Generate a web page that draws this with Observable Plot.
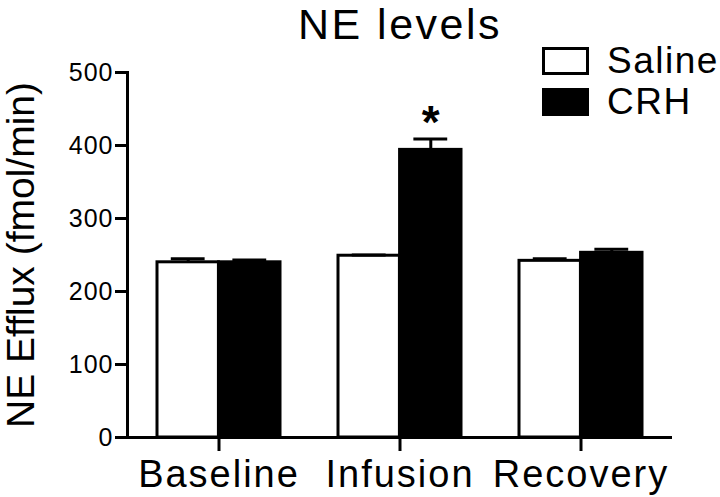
<!DOCTYPE html>
<html><head><meta charset="utf-8">
<script src="https://cdn.jsdelivr.net/npm/d3@7"></script>
<script src="https://cdn.jsdelivr.net/npm/@observablehq/plot@0.6"></script>
<style>
body{margin:0;background:#fff;}
#chart{position:relative;width:720px;height:497px;font-family:"Liberation Sans",Arial,sans-serif;}
.legend{position:absolute;left:542px;top:40px;}
.row{display:flex;align-items:center;height:41px;}
.box{width:41px;height:22px;border:3px solid #000;}
.lab{margin-left:18px;font-size:37px;letter-spacing:1.5px;color:#000;line-height:41px;}
#chart svg g[aria-label$="tick"] path{stroke-width:3px;}
#chart svg g[aria-label="frame"] *{stroke-width:3px;}
#chart svg g[aria-label="x-axis tick label"] text{letter-spacing:2px;}
#chart svg g[aria-label="y-axis tick label"] text{letter-spacing:1px;}
</style></head><body><div id="chart"></div>
<script>
const title = "NE levels";
const yLabel = "NE Efflux (fmol/min)";
const groups = ["Baseline", "Infusion", "Recovery"];
const series = ["Saline", "CRH"];
const colors = ["#ffffff", "#000000"];
const salineMean = [240, 249, 242];
const salineSem = [5, 1, 3];
const crhMean = [240, 394, 253];
const crhSem = [3, 15, 5];
const yTicks = [0, 100, 200, 300, 400, 500];
const sigGroups = ["Infusion"];
const sigSymbol = "*";

const W = 720, H = 497, mL = 127, mR = 48, mT = 72, mB = 60;
const pIn = 0.322, pOut = 0.161;
const step = (W - mL - mR) / (groups.length - pIn + 2 * pOut);
const bw = step * (1 - pIn);
const half = bw / 2;
const capHalf = 17;

const saline = groups.map((g, i) => ({group: g, value: salineMean[i], sem: salineSem[i]}));
const crh = groups.map((g, i) => ({group: g, value: crhMean[i], sem: crhSem[i]}));
const sig = crh.filter(d => sigGroups.includes(d.group)).map(d => ({...d, label: sigSymbol}));

const plot = Plot.plot({
  width: W, height: H,
  marginLeft: mL, marginRight: mR, marginTop: mT, marginBottom: mB,
  style: {fontFamily: "Liberation Sans, Arial, sans-serif", color: "#000", background: "#fff"},
  x: {domain: groups, paddingInner: pIn, paddingOuter: pOut},
  y: {domain: [0, 500]},
  marks: [
    Plot.barY(saline, {x: "group", y: "value", fill: colors[0], stroke: "#000", strokeWidth: 3, insetLeft: 0, insetRight: half}),
    Plot.barY(crh, {x: "group", y: "value", fill: colors[1], stroke: "#000", strokeWidth: 3, insetLeft: half, insetRight: 0}),
    Plot.ruleX(saline, {x: "group", y1: "value", y2: d => d.value + d.sem, dx: -half / 2, strokeWidth: 3}),
    Plot.ruleX(crh, {x: "group", y1: "value", y2: d => d.value + d.sem, dx: half / 2, strokeWidth: 3}),
    Plot.tickY(saline, {x: "group", y: d => d.value + d.sem, insetLeft: half / 2 - capHalf, insetRight: half + half / 2 - capHalf, strokeWidth: 3}),
    Plot.tickY(crh, {x: "group", y: d => d.value + d.sem, insetLeft: half + half / 2 - capHalf, insetRight: half / 2 - capHalf, strokeWidth: 3}),
    Plot.text(sig, {x: "group", y: d => d.value + d.sem, text: "label", dx: half / 2, dy: -1, lineAnchor: "bottom", fontSize: 46, fontWeight: "bold"}),
    Plot.ruleY([0], {strokeWidth: 3}),
    Plot.frame({anchor: "left", strokeWidth: 3}),
    Plot.axisY({ticks: yTicks, tickSize: 12, tickPadding: 2, strokeWidth: 3, fontSize: 25, label: null}),
    Plot.axisX({tickSize: 14, tickPadding: 9, strokeWidth: 3, fontSize: 38, label: null}),
    Plot.text([yLabel], {frameAnchor: "left", textAnchor: "middle", text: d => d, rotate: -90, dx: -106, fontSize: 39}),
    Plot.text([title], {frameAnchor: "top", text: d => d, dy: -34, lineAnchor: "bottom", fontSize: 43})
  ]
});

const chart = document.getElementById("chart");
chart.appendChild(plot);
plot.querySelectorAll("text").forEach(t => {
  if (t.textContent === title) t.style.letterSpacing = "2.5px";
});
const legend = document.createElement("div");
legend.className = "legend";
series.forEach((s, i) => {
  const row = document.createElement("div");
  row.className = "row";
  const box = document.createElement("div");
  box.className = "box";
  box.style.background = colors[i];
  const lab = document.createElement("span");
  lab.className = "lab";
  lab.textContent = s;
  row.appendChild(box);
  row.appendChild(lab);
  legend.appendChild(row);
});
chart.appendChild(legend);
</script></body></html>
